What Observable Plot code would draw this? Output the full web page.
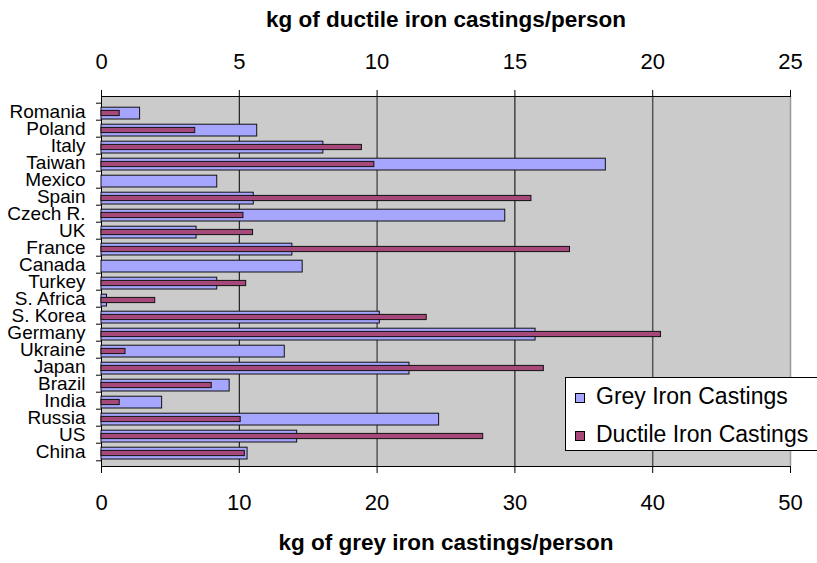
<!DOCTYPE html>
<html>
<head>
<meta charset="utf-8">
<script src="https://cdn.jsdelivr.net/npm/d3@7"></script>
<script src="https://cdn.jsdelivr.net/npm/@observablehq/plot@0.6"></script>
<style>
  html, body { margin: 0; padding: 0; background: #fff; }
  #wrap { position: relative; width: 817px; height: 563px; font-family: "Liberation Sans", Arial, sans-serif; }
  #legend { position: absolute; left: 565px; top: 377px; width: 252px; height: 74px; box-sizing: border-box;
    background: #fff; border: 1px solid #000; border-right: none; }
  .item { position: absolute; left: 9px; font-size: 23px; line-height: 1; color: #000; white-space: nowrap; }
  .sw { position: absolute; left: 0; width: 8px; height: 8px; border: 1px solid #000; }
  .lab { position: absolute; left: 21px; }
</style>
</head>
<body>
<div id="wrap"></div>
<script>
const countries = ["Romania","Poland","Italy","Taiwan","Mexico","Spain","Czech R.","UK","France","Canada","Turkey","S. Africa","S. Korea","Germany","Ukraine","Japan","Brazil","India","Russia","US","China"];
const greyIron = [2.8, 11.3, 16.1, 36.6, 8.4, 11.05, 29.3, 6.9, 13.85, 14.6, 8.4, 0.4, 20.2, 31.5, 13.3, 22.35, 9.3, 4.4, 24.5, 14.2, 10.6];
const ductileIron = [0.66, 3.4, 9.45, 9.9, null, 15.6, 5.15, 5.5, 17.0, null, 5.25, 1.95, 11.8, 20.3, 0.87, 16.05, 4.0, 0.66, 5.05, 13.85, 5.2];
const greyTicks = [0, 10, 20, 30, 40, 50];
const ductileTicks = [0, 5, 10, 15, 20, 25];
const seriesNames = ["Grey Iron Castings", "Ductile Iron Castings"];
const seriesColors = ["#a6a6ff", "#a6487a"];
const xTitleBottom = "kg of grey iron castings/person";
const xTitleTop = "kg of ductile iron castings/person";

const rows = countries.map((c, i) => ({country: c, grey: greyIron[i], ductile: ductileIron[i]}));
// ductile is on a secondary axis with half the range of the grey axis (25 vs 50)
const ratio = greyTicks[greyTicks.length - 1] / ductileTicks[ductileTicks.length - 1];

const W = 817, H = 563;
const mT = 96, mB = 97, mL = 101, mR = 27;
const bw = (H - mT - mB) / countries.length;

const chart = Plot.plot({
  width: W, height: H,
  marginTop: mT, marginBottom: mB, marginLeft: mL, marginRight: mR,
  style: {fontFamily: "'Liberation Sans', Arial, sans-serif", fontSize: "22px", color: "#000", background: "#fff"},
  x: {domain: [0, 50]},
  y: {domain: countries, padding: 0},
  marks: [
    Plot.frame({fill: "#cbcbcb"}),
    Plot.ruleX(greyTicks.filter(d => d > 0 && d < 50), {stroke: d => (d % 20 === 0 ? "#555" : "#000"), strokeWidth: d => (d % 20 === 0 ? 1.5 : 1)}),
    Plot.ruleX([50], {stroke: "#999", strokeWidth: 1.5}),
    Plot.ruleX([0], {stroke: "#000"}),
    Plot.frame({anchor: "top", stroke: "#000"}),
    Plot.frame({anchor: "bottom", stroke: "#000"}),
    Plot.barX(rows, {x: "grey", y: "country", fill: seriesColors[0], stroke: "#111", strokeWidth: 1, insetTop: 4.2, insetBottom: 1.0}),
    Plot.barX(rows.filter(d => d.ductile != null), {x: d => d.ductile * ratio, y: "country", fill: seriesColors[1], stroke: "#111", strokeWidth: 1, insetTop: 7.4, insetBottom: 4.4}),
    Plot.axisX(greyTicks, {anchor: "bottom", tickSize: 7, tickPadding: 21, fontSize: 22, label: null, stroke: "#000"}),
    Plot.axisX(greyTicks, {anchor: "top", tickSize: 7, tickPadding: 21, fontSize: 22, label: null, tickFormat: d => String(d / ratio), stroke: "#000"}),
    Plot.axisY({anchor: "left", tickSize: 5, dy: -bw / 2, tickFormat: () => "", label: null}),
    Plot.axisY(["China"], {anchor: "left", tickSize: 5, dy: bw / 2, tickFormat: () => "", label: null}),
    Plot.axisY({anchor: "left", tickSize: 0, tickPadding: 16, fontSize: 19, label: null}),
    Plot.text([xTitleBottom], {frameAnchor: "bottom", dy: 83, fontSize: 22.5, fontWeight: "bold", text: d => d}),
    Plot.text([xTitleTop], {frameAnchor: "top", dy: -85, fontSize: 22.5, fontWeight: "bold", text: d => d})
  ]
});

const wrap = document.getElementById("wrap");
wrap.appendChild(chart);

const legend = document.createElement("div");
legend.id = "legend";
const tops = [17, 55];
seriesNames.forEach((name, i) => {
  const item = document.createElement("div");
  item.className = "item";
  item.style.top = tops[i] + "px";
  const sw = document.createElement("div");
  sw.className = "sw";
  sw.style.background = seriesColors[i];
  sw.style.top = "-2px";
  const lab = document.createElement("span");
  lab.className = "lab";
  lab.style.top = "-10px";
  lab.textContent = name;
  item.appendChild(sw);
  item.appendChild(lab);
  legend.appendChild(item);
});
wrap.appendChild(legend);
</script>
</body>
</html>
